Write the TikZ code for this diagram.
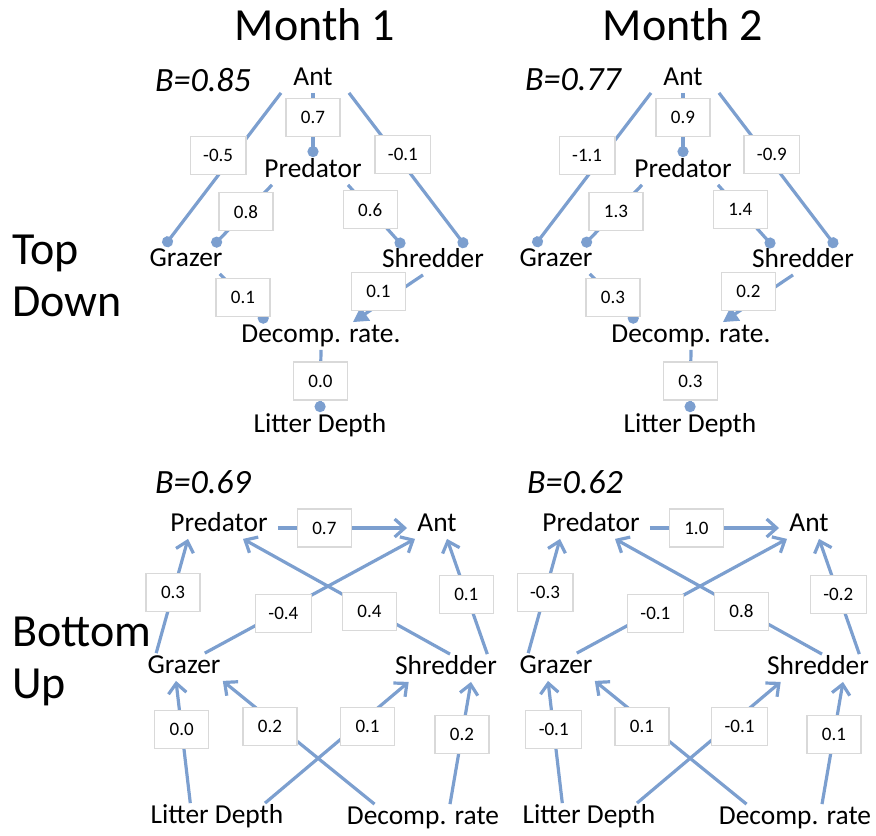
\documentclass[tikz,border=0pt]{standalone}
\usepackage{fontspec}
\setmainfont{Carlito}
\usetikzlibrary{arrows.meta}
\definecolor{edgeblue}{RGB}{124,159,207}
\definecolor{boxgray}{RGB}{217,217,217}
\tikzset{
  sp/.style={inner sep=1pt, text height=9pt, text depth=2.5pt, font=\fontsize{13.7}{15}\selectfont},
  wbox/.style={draw=boxgray, fill=white, line width=0.6pt, minimum width=27pt, minimum height=19pt, inner xsep=6.5pt, font=\fontsize{9.5}{11}\selectfont},
  td/.style={draw=edgeblue, line width=1.6pt, -{Circle[length=5.5pt]}},
  tdarr/.style={draw=edgeblue, line width=1.6pt, -{Triangle[length=7.5pt,width=8pt]}},
  bu/.style={draw=edgeblue, line width=1.6pt, -{Straight Barb[length=5pt,width=9pt]}},
  bval/.style={font=\fontsize{17}{19}\selectfont\itshape},
  title/.style={font=\fontsize{23}{26}\selectfont}
}

\begin{document}
\begin{tikzpicture}[x=0.5pt, y=-0.5pt]
	\useasboundingbox (0,0) rectangle (876,835);
	% Titles and row labels:
	\node[title] (m1) at (315,25) {Month 1};
	\node[title] (m2) at (683,25) {Month 2};
	\node[title, anchor=west, align=left] (tdlab) at (5,276) {Top\\Down};
	\node[title, anchor=west, align=left] (bulab) at (5,661) {Bottom\\Up};

	% Top down, month 1:
	\node[bval] (b1) at (203,80) {B=0.85};
	\node[sp] (ant1) at (313,79) {Ant};
	\node[sp] (pre1) at (313,171) {Predator};
	\node[sp] (gra1) at (186,260) {Grazer};
	\node[sp] (shr1) at (433,261) {Shredder};
	\node[sp] (dec1) at (321,336) {Decomp. rate.};
	\node[sp] (lit1) at (320,426) {Litter Depth};
	\draw[td] (ant1.south) -- node[wbox, pos=.38] (w11) {0.7} (pre1.north);
	\draw[td] ([xshift=-5pt]ant1.south west) -- node[wbox, pos=.41, xshift=-7.5pt] (w12) {-0.5} ([xshift=8.5pt]gra1.north west);
	\draw[td] ([xshift=7pt]ant1.south east) -- node[wbox, pos=.40, xshift=3.5pt] (w13) {-0.1} ([xshift=-10pt]shr1.north east);
	\draw[td] ([xshift=5pt]pre1.south west) -- node[wbox, pos=.44] (w14) {0.8} ([xshift=-6pt]gra1.north east);
	\draw[td] ([xshift=-8pt]pre1.south east) -- node[wbox, pos=.40] (w15) {0.6} ([xshift=12pt]shr1.north west);
	\draw[td] ([xshift=-2.5pt]gra1.south east) -- node[wbox, pos=.49] (w16) {0.1} ([xshift=14pt]dec1.north west);
	\draw[tdarr] ([xshift=-5pt]shr1.south) -- node[wbox, pos=.35, xshift=-10pt] (w17) {0.1} ([xshift=-25pt]dec1.north east);
	\draw[td] (dec1.south) -- node[wbox, pos=.5] (w18) {0.0} (lit1.north);

	% Top down, month 2:
	\begin{scope}[xshift=185pt]
		\node[bval] (b2) at (203,80) {B=0.77};
		\node[sp] (ant2) at (313,79) {Ant};
		\node[sp] (pre2) at (313,171) {Predator};
		\node[sp] (gra2) at (186,260) {Grazer};
		\node[sp] (shr2) at (433,261) {Shredder};
		\node[sp] (dec2) at (321,336) {Decomp. rate.};
		\node[sp] (lit2) at (320,426) {Litter Depth};
		\draw[td] (ant2.south) -- node[wbox, pos=.38] (w21) {0.9} (pre2.north);
		\draw[td] ([xshift=-5pt]ant2.south west) -- node[wbox, pos=.41, xshift=-8pt] (w22) {-1.1} ([xshift=8.5pt]gra2.north west);
		\draw[td] ([xshift=7pt]ant2.south east) -- node[wbox, pos=.40, xshift=3pt] (w23) {-0.9} ([xshift=-10pt]shr2.north east);
		\draw[td] ([xshift=5pt]pre2.south west) -- node[wbox, pos=.44] (w24) {1.3} ([xshift=-6pt]gra2.north east);
		\draw[td] ([xshift=-8pt]pre2.south east) -- node[wbox, pos=.40] (w25) {1.4} ([xshift=12pt]shr2.north west);
		\draw[td] ([xshift=-2.5pt]gra2.south east) -- node[wbox, pos=.49] (w26) {0.3} ([xshift=14pt]dec2.north west);
		\draw[tdarr] ([xshift=-5pt]shr2.south) -- node[wbox, pos=.35, xshift=-10pt] (w27) {0.2} ([xshift=-25pt]dec2.north east);
		\draw[td] (dec2.south) -- node[wbox, pos=.5] (w28) {0.3} (lit2.north);
	\end{scope}

	% Bottom up, month 1:
	\node[bval] (b3) at (203,482) {B=0.69};
	\node[sp] (pre3) at (219,525) {Predator};
	\node[sp] (ant3) at (437,525) {Ant};
	\node[sp] (gra3) at (184,667) {Grazer};
	\node[sp] (shr3) at (446,668) {Shredder};
	\node[sp] (lit3) at (217,817) {Litter Depth};
	\node[sp] (dec3) at (423,818) {Decomp. rate};
	\draw[bu, shorten <=4pt, shorten >=4pt] ([yshift=-1.5pt]pre3.east) -- node[wbox, pos=.375] (w31) {0.7} ([yshift=-1.5pt]ant3.west);
	\draw[bu] ([xshift=5.5pt]gra3.north west) -- node[wbox, pos=.53] (w32) {0.3} ([xshift=10pt]pre3.south west);
	\draw[bu] ([xshift=-6pt]shr3.north east) -- node[wbox, pos=.52] (w33) {0.1} ([xshift=5pt]ant3.south);
	\draw[bu] ([xshift=-9pt]gra3.north east) -- node[wbox, pos=.35, xshift=2.5pt] (w34) {-0.4} (ant3.south west);
	\draw[bu] ([xshift=2pt]shr3.north) -- node[wbox, pos=.37, xshift=-2pt] (w35) {0.4} ([xshift=12pt]pre3.south);
	\draw[bu] ([xshift=21pt]lit3.north west) -- node[wbox, pos=.6] (w36) {0.0} ([xshift=-4pt]gra3.south);
	\draw[bu] ([xshift=15pt]dec3.north west) -- node[wbox, pos=.63, xshift=-4.5pt] (w37) {0.2} (gra3.south east);
	\draw[bu] ([xshift=24pt]lit3.north) -- node[wbox, pos=.63, xshift=6pt] (w38) {0.1} ([xshift=8pt]shr3.south west);
	\draw[bu] ([xshift=13.5pt]dec3.north) -- node[wbox, pos=.57] (w39) {0.2} ([xshift=12.5pt]shr3.south);

	% Bottom up, month 2:
	\begin{scope}[xshift=186pt]
		\node[bval] (b4) at (203,482) {B=0.62};
		\node[sp] (pre4) at (219,525) {Predator};
		\node[sp] (ant4) at (437,525) {Ant};
		\node[sp] (gra4) at (184,667) {Grazer};
		\node[sp] (shr4) at (446,668) {Shredder};
		\node[sp] (lit4) at (217,817) {Litter Depth};
		\node[sp] (dec4) at (423,818) {Decomp. rate};
		\draw[bu, shorten <=4pt, shorten >=4pt] ([yshift=-1.5pt]pre4.east) -- node[wbox, pos=.375] (w41) {1.0} ([yshift=-1.5pt]ant4.west);
		\draw[bu] ([xshift=5.5pt]gra4.north west) -- node[wbox, pos=.53] (w42) {-0.3} ([xshift=10pt]pre4.south west);
		\draw[bu] ([xshift=-6pt]shr4.north east) -- node[wbox, pos=.52] (w43) {-0.2} ([xshift=5pt]ant4.south);
		\draw[bu] ([xshift=-9pt]gra4.north east) -- node[wbox, pos=.35, xshift=2.5pt] (w44) {-0.1} (ant4.south west);
		\draw[bu] ([xshift=2pt]shr4.north) -- node[wbox, pos=.37, xshift=-2pt] (w45) {0.8} ([xshift=12pt]pre4.south);
		\draw[bu] ([xshift=21pt]lit4.north west) -- node[wbox, pos=.6] (w46) {-0.1} ([xshift=-4pt]gra4.south);
		\draw[bu] ([xshift=15pt]dec4.north west) -- node[wbox, pos=.63, xshift=-4.5pt] (w47) {0.1} (gra4.south east);
		\draw[bu] ([xshift=24pt]lit4.north) -- node[wbox, pos=.63, xshift=6pt] (w48) {-0.1} ([xshift=8pt]shr4.south west);
		\draw[bu] ([xshift=13.5pt]dec4.north) -- node[wbox, pos=.57] (w49) {0.1} ([xshift=12.5pt]shr4.south);
	\end{scope}
\end{tikzpicture}
\end{document}
